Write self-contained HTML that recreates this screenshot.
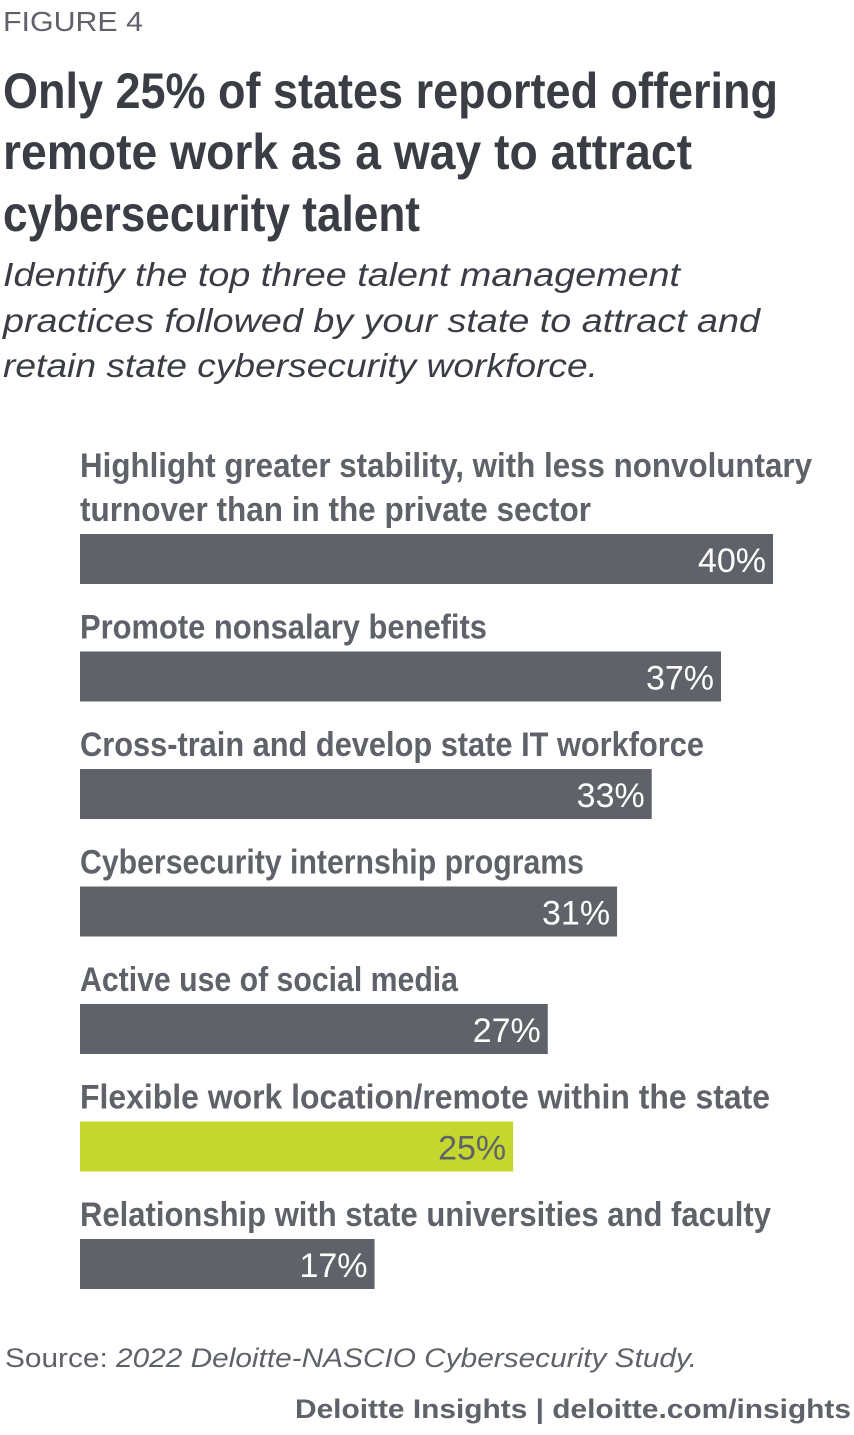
<!DOCTYPE html>
<html><head><meta charset="utf-8"><style>
html,body{margin:0;padding:0;background:#fff;}
svg{display:block;}
</style></head><body>
<svg id="chart" width="854" height="1435" viewBox="0 0 854 1435" xmlns="http://www.w3.org/2000/svg">
<text x="3" y="31" font-family="Liberation Sans, sans-serif" font-size="28" fill="#5f6369" textLength="140" lengthAdjust="spacingAndGlyphs">FIGURE 4</text>
<g font-family="Liberation Sans, sans-serif" font-weight="bold" font-size="50" fill="#3b3d45">
<text x="3" y="108" textLength="775" lengthAdjust="spacingAndGlyphs">Only 25% of states reported offering</text>
<text x="3" y="169" textLength="689" lengthAdjust="spacingAndGlyphs">remote work as a way to attract</text>
<text x="3" y="231" textLength="417" lengthAdjust="spacingAndGlyphs">cybersecurity talent</text>
</g>
<g font-family="Liberation Sans, sans-serif" font-style="italic" font-size="33" fill="#3b3d45">
<text x="3" y="286" textLength="677" lengthAdjust="spacingAndGlyphs">Identify the top three talent management</text>
<text x="3" y="332" textLength="757" lengthAdjust="spacingAndGlyphs">practices followed by your state to attract and</text>
<text x="3" y="377" textLength="595" lengthAdjust="spacingAndGlyphs">retain state cybersecurity workforce.</text>
</g>
<g id="bars"></g>
<text x="5" y="1367" font-family="Liberation Sans, sans-serif" font-size="27" fill="#5f6369" textLength="692" lengthAdjust="spacingAndGlyphs">Source: <tspan font-style="italic">2022 Deloitte-NASCIO Cybersecurity Study.</tspan></text>
<text x="851" y="1418" text-anchor="end" font-family="Liberation Sans, sans-serif" font-weight="bold" font-size="27" fill="#5f6369" textLength="556" lengthAdjust="spacingAndGlyphs">Deloitte Insights | deloitte.com/insights</text>
</svg>
<script>
const categories = [
  ["Highlight greater stability, with less nonvoluntary","turnover than in the private sector"],
  ["Promote nonsalary benefits"],
  ["Cross-train and develop state IT workforce"],
  ["Cybersecurity internship programs"],
  ["Active use of social media"],
  ["Flexible work location/remote within the state"],
  ["Relationship with state universities and faculty"]
];
const values = [40, 37, 33, 31, 27, 25, 17];
const highlighted = [false, false, false, false, false, true, false];
const labelWidths = [[732, 511],[407],[624],[504],[378],[690],[691]];

const NS = "http://www.w3.org/2000/svg";
const x0 = 80, pxPer = 693/40;
function xScale(v){ return v * pxPer; }
function bandTop(i){ return 534 + i * 117.5; }
const g = document.getElementById('bars');
categories.forEach((lines, i) => {
  const top = bandTop(i);
  lines.forEach((ln, j) => {
    const t = document.createElementNS(NS, 'text');
    
    
    t.setAttribute('x', x0);
    t.setAttribute('y', top - 13 - (lines.length - 1 - j) * 44);
    t.setAttribute('font-family', 'Liberation Sans, sans-serif');
    t.setAttribute('font-weight', 'bold');
    t.setAttribute('font-size', '34');
    t.setAttribute('fill', '#5f6369');
    t.setAttribute('textLength', labelWidths[i][j]);
    t.setAttribute('lengthAdjust', 'spacingAndGlyphs');
    t.textContent = ln;
    g.appendChild(t);
  });
  const w = xScale(values[i]);
  const r = document.createElementNS(NS, 'rect');
  
  
  r.setAttribute('x', x0);
  r.setAttribute('y', top);
  r.setAttribute('width', w);
  r.setAttribute('height', 50);
  r.setAttribute('fill', highlighted[i] ? '#c4d72e' : '#5f6369');
  g.appendChild(r);
  const v = document.createElementNS(NS, 'text');
  
  
  v.setAttribute('x', x0 + w - 7);
  v.setAttribute('y', top + 38);
  v.setAttribute('text-anchor', 'end');
  v.setAttribute('font-family', 'Liberation Sans, sans-serif');
  v.setAttribute('font-size', '34');
  v.setAttribute('fill', highlighted[i] ? '#5f6369' : '#ffffff');
  v.textContent = values[i] + '%';
  g.appendChild(v);
});
</script>
</body></html>
